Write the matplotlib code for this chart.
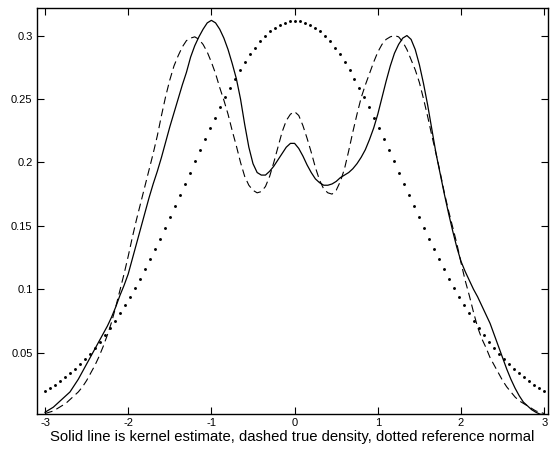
import matplotlib
matplotlib.use("Agg")
import matplotlib.pyplot as plt
import numpy as np

plt.rcParams["font.family"] = ["Liberation Sans", "DejaVu Sans"]

# kernel estimate (solid) and true density (dashed), read every 0.05 on [-3, 3]
x_curve = np.linspace(-3.0, 3.0, 121)
kernel_est = [
    0.003, 0.005, 0.007, 0.010, 0.013, 0.016, 0.019, 0.024, 0.029, 0.035,
    0.041, 0.047, 0.053, 0.059, 0.065, 0.071, 0.078, 0.086, 0.095, 0.103,
    0.112, 0.124, 0.136, 0.148, 0.160, 0.172, 0.183, 0.193, 0.204, 0.216,
    0.228, 0.239, 0.250, 0.261, 0.271, 0.283, 0.292, 0.299, 0.305, 0.310,
    0.312, 0.310, 0.305, 0.298, 0.289, 0.278, 0.266, 0.250, 0.230, 0.212,
    0.199, 0.192, 0.190, 0.190, 0.193, 0.197, 0.202, 0.207, 0.212, 0.215,
    0.215,
    0.211, 0.205, 0.198, 0.192, 0.187, 0.184, 0.182, 0.182, 0.183, 0.185,
    0.188, 0.190, 0.192, 0.195, 0.199, 0.204, 0.210, 0.218, 0.227, 0.238,
    0.251, 0.264, 0.276, 0.286, 0.293, 0.298, 0.300, 0.297, 0.289, 0.277,
    0.262, 0.245, 0.226, 0.207, 0.191, 0.175, 0.160, 0.146, 0.133, 0.122,
    0.114, 0.107, 0.100, 0.094, 0.087, 0.080, 0.073, 0.064, 0.055, 0.046,
    0.037, 0.029, 0.022, 0.016, 0.011, 0.008, 0.005, 0.003, 0.0015, 0.001,
]
true_density = [
    0.002, 0.003, 0.004, 0.006, 0.008, 0.010, 0.013, 0.016, 0.019, 0.023,
    0.028, 0.034, 0.040, 0.047, 0.055, 0.064, 0.074, 0.086, 0.099, 0.112,
    0.126, 0.141, 0.155, 0.168, 0.181, 0.194, 0.207, 0.221, 0.237, 0.252,
    0.265, 0.276, 0.284, 0.291, 0.296, 0.298, 0.299, 0.297, 0.293, 0.287,
    0.279, 0.270, 0.259, 0.249, 0.238, 0.225, 0.213, 0.200, 0.189, 0.182,
    0.178, 0.176, 0.177, 0.181, 0.189, 0.200, 0.212, 0.224, 0.233, 0.238,
    0.240,
    0.237, 0.229, 0.219, 0.208, 0.196, 0.186, 0.179, 0.176, 0.175, 0.178,
    0.185, 0.195, 0.209, 0.224, 0.238, 0.251, 0.261, 0.270, 0.279, 0.287,
    0.293, 0.297, 0.299, 0.300, 0.299, 0.295, 0.289, 0.281, 0.273, 0.263,
    0.250, 0.236, 0.221, 0.207, 0.192, 0.176, 0.162, 0.149, 0.136, 0.121,
    0.107, 0.095, 0.082, 0.070, 0.061, 0.054, 0.046, 0.040, 0.034, 0.028,
    0.023, 0.019, 0.015, 0.012, 0.010, 0.008, 0.006, 0.004, 0.003, 0.002,
]

# reference normal (dotted), one dot every 0.06
x_ref = np.linspace(-3.0, 3.0, 101)
ref_normal = [
    0.0200, 0.0223, 0.0248, 0.0275, 0.0305, 0.0337, 0.0372, 0.0409, 0.0449, 0.0491,
    0.0537, 0.0586, 0.0638, 0.0692, 0.0750, 0.0811, 0.0875, 0.0942, 0.1012, 0.1084,
    0.1159, 0.1237, 0.1317, 0.1399, 0.1483, 0.1568, 0.1655, 0.1743, 0.1831, 0.1920,
    0.2008, 0.2096, 0.2183, 0.2269, 0.2353, 0.2434, 0.2513, 0.2589, 0.2661, 0.2729,
    0.2793, 0.2852, 0.2905, 0.2954, 0.2996, 0.3033, 0.3063, 0.3086, 0.3103, 0.3114,
    0.3117,
    0.3114, 0.3103, 0.3086, 0.3063, 0.3033, 0.2996, 0.2954, 0.2905, 0.2852, 0.2793,
    0.2729, 0.2661, 0.2589, 0.2513, 0.2434, 0.2353, 0.2269, 0.2183, 0.2096, 0.2008,
    0.1920, 0.1831, 0.1743, 0.1655, 0.1568, 0.1483, 0.1399, 0.1317, 0.1237, 0.1159,
    0.1084, 0.1012, 0.0942, 0.0875, 0.0811, 0.0750, 0.0692, 0.0638, 0.0586, 0.0537,
    0.0491, 0.0449, 0.0409, 0.0372, 0.0337, 0.0305, 0.0275, 0.0248, 0.0223, 0.0200,
]

x_ticks = [-3, -2, -1, 0, 1, 2, 3]
y_ticks = [0.05, 0.1, 0.15, 0.2, 0.25, 0.3]
y_ticklabels = ["0.05", "0.1", "0.15", "0.2", "0.25", "0.3"]
xlabel = "Solid line is kernel estimate, dashed true density, dotted reference normal"

fig = plt.figure(figsize=(5.5, 4.51), dpi=100)
ax = fig.add_axes([0.0667, 0.0814, 0.9303, 0.9002])

ax.plot(x_curve, kernel_est, color="black", linewidth=0.9)
ax.plot(x_curve, true_density, color="black", linewidth=0.8, linestyle=(0, (7, 4)))
ax.plot(x_ref, ref_normal, linestyle="none", marker="o", markersize=2.1,
        markeredgewidth=0, color="black")

ax.set_xlim(-3.1, 3.05)
ax.set_ylim(0.0014, 0.3215)
ax.set_xticks(x_ticks)
ax.set_xticklabels([str(t) for t in x_ticks])
ax.set_yticks(y_ticks)
ax.set_yticklabels(y_ticklabels)
ax.tick_params(direction="in", length=5, width=0.8, top=True, right=True,
               labelsize=8, pad=3)
for sp in ax.spines.values():
    sp.set_linewidth(1.0)
ax.set_xlabel(xlabel, fontsize=10.7, labelpad=1)

fig.savefig("out.png", dpi=100)
